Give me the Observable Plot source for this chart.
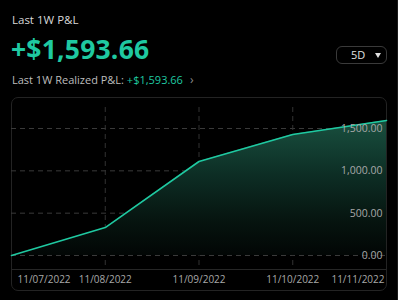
<!DOCTYPE html>
<html>
<head>
<meta charset="utf-8">
<script src="https://cdn.jsdelivr.net/npm/d3@7"></script>
<script src="https://cdn.jsdelivr.net/npm/@observablehq/plot@0.6"></script>
<style>
  html, body { margin: 0; padding: 0; background: #000; }
  body { width: 398px; height: 300px; position: relative; overflow: hidden; font-family: "Open Sans", "Noto Sans", sans-serif; }
  .abs { position: absolute; white-space: nowrap; }
  #t1 { left: 12px; top: 12px; font-size: 11.5px; color: #d8d8d8; }
  #t2 { left: 11px; top: 31px; font-size: 26.5px; font-weight: 700; color: #1fc9a1; letter-spacing: 0.2px; }
  #t3 { left: 12px; top: 71px; font-size: 11px; color: #bdbdbd; }
  #t3 .v { color: #1fc9a1; }
  #t3 .chev { color: #8a8a8a; margin-left: 7px; font-size: 12px; }
  #btn { left: 336px; top: 46px; width: 49px; height: 16px; border: 1px solid #3a3a3a; border-radius: 6px; }
  #btn .lab { position: absolute; left: 14px; top: 0px; font-size: 11px; color: #e0e0e0; line-height: 16px; }
  #btn .tri { position: absolute; left: 38px; top: 6px; width: 0; height: 0; border-left: 3.5px solid transparent; border-right: 3.5px solid transparent; border-top: 5px solid #e0e0e0; }
  #panel { left: 11px; top: 97px; width: 374px; height: 192px; border: 1px solid #232323; border-radius: 7px; }
  #axisline { left: 12px; top: 269px; width: 374px; height: 1px; background: #262626; }
  #edge { left: 397px; top: 0; width: 1px; height: 300px; background: #1a1a1a; }
  #chart { position: absolute; left: 0; top: 92px; }
</style>
</head>
<body>
<div class="abs" id="t1">Last 1W P&amp;L</div>
<div class="abs" id="t2">+$1,593.66</div>
<div class="abs" id="t3">Last 1W Realized P&amp;L: <span class="v">+$1,593.66</span><span class="chev">&#x203A;</span></div>
<div class="abs" id="btn"><span class="lab">5D</span><span class="tri"></span></div>
<div class="abs" id="panel"></div>
<div class="abs" id="axisline"></div>
<div class="abs" id="edge"></div>
<div id="chart"></div>
<script>
const dates = ["2022-11-07", "2022-11-08", "2022-11-09", "2022-11-10", "2022-11-11"];
const pnl = [0, 330, 1110, 1430, 1593.66];
const dateLabels = ["11/07/2022", "11/08/2022", "11/09/2022", "11/10/2022", "11/11/2022"];
const yTicks = [0, 500, 1000, 1500];

const data = dates.map((d, i) => ({date: new Date(d + "T00:00:00Z"), value: pnl[i], label: dateLabels[i]}));
const fmt = d3.format(",.2f");
const teal = "#1fc9a1";

function gradientDefs() {
  const ns = "http://www.w3.org/2000/svg";
  const defs = document.createElementNS(ns, "defs");
  const g = document.createElementNS(ns, "linearGradient");
  g.setAttribute("id", "pnlGrad");
  g.setAttribute("x1", "0"); g.setAttribute("y1", "0");
  g.setAttribute("x2", "0"); g.setAttribute("y2", "1");
  [["0%", "#19503f"], ["40%", "#0d2e25"], ["75%", "#06140f"], ["100%", "#020605"]].forEach(([o, c]) => {
    const s = document.createElementNS(ns, "stop");
    s.setAttribute("offset", o);
    s.setAttribute("stop-color", c);
    g.appendChild(s);
  });
  defs.appendChild(g);
  return defs;
}

const chart = Plot.plot({
  width: 398,
  height: 208,
  marginLeft: 11,
  marginRight: 12,
  marginTop: 36,
  marginBottom: 45,
  style: {background: "transparent", fontFamily: "'Open Sans', 'Noto Sans', sans-serif", fontSize: "10px"},
  x: {type: "utc", domain: [data[0].date, data[data.length - 1].date], axis: null},
  y: {domain: [0, 1500], axis: null},
  marks: [
    gradientDefs,
    Plot.ruleY(yTicks, {stroke: "#3a3a3a", strokeDasharray: "5,4", strokeWidth: 1}),
    Plot.ruleX(data.slice(1, 4), {x: "date", stroke: "#333", strokeDasharray: "5,4", insetTop: -21, insetBottom: -14}),
    Plot.areaY(data, {x: "date", y: "value", fill: "url(#pnlGrad)"}),
    Plot.lineY(data, {x: "date", y: "value", stroke: teal, strokeWidth: 1.6}),
    Plot.text(yTicks, {y: d => d, text: d => fmt(d), frameAnchor: "right", textAnchor: "end", dx: -4, fill: "#a8a8a8", fontSize: 10.5}),
    Plot.text(data.slice(0, 1), {x: "date", text: "label", frameAnchor: "bottom", textAnchor: "start", dx: 6, dy: 27, fill: "#a8a8a8", fontSize: 10}),
    Plot.text(data.slice(1, 4), {x: "date", text: "label", frameAnchor: "bottom", textAnchor: "middle", dy: 27, fill: "#a8a8a8", fontSize: 10}),
    Plot.text(data.slice(4), {x: "date", text: "label", frameAnchor: "bottom", textAnchor: "end", dx: -2, dy: 27, fill: "#a8a8a8", fontSize: 10})
  ]
});
document.getElementById("chart").appendChild(chart);
</script>
</body>
</html>
